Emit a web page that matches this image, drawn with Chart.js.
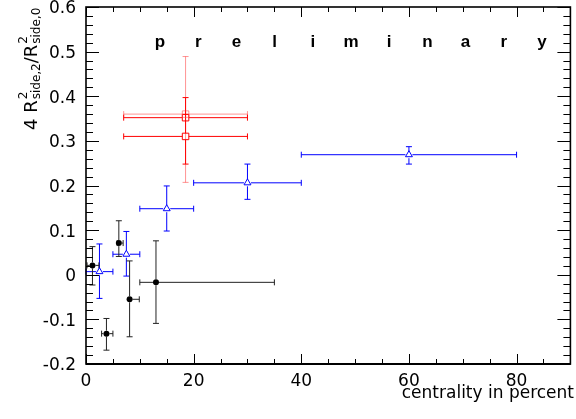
<!DOCTYPE html>
<html><head><meta charset="utf-8">
<script src="https://cdn.jsdelivr.net/npm/chart.js@4.4.0/dist/chart.umd.min.js"></script>
<style>html,body{margin:0;padding:0;background:#fff}</style>
</head><body>
<canvas id="c" width="576" height="419"></canvas>
<script>
// ---- data ----
const xTickValues = [0, 20, 40, 60, 80];
const xTickLabels = ["0", "20", "40", "60", "80"];
const yTickValues = [-0.2, -0.1, 0, 0.1, 0.2, 0.3, 0.4, 0.5, 0.6];
const yTickLabels = ["-0.2", "-0.1", "0", "0.1", "0.2", "0.3", "0.4", "0.5", "0.6"];

// black circles
const blackX   = [1.2, 6.1, 8.1, 13.0, 3.8];
const blackY   = [0.021, 0.071, -0.055, -0.017, -0.132];
const blackXLo = [0.2, 5.8, 8.1, 10.0, 2.9];
const blackXHi = [2.4, 6.9, 9.9, 35.0, 5.0];
const blackYLo = [-0.023, 0.041, -0.139, -0.109, -0.169];
const blackYHi = [0.063, 0.121, 0.031, 0.076, -0.098];

// blue open triangles
const blueX   = [2.5, 7.5, 15, 30, 60];
const blueY   = [0.007, 0.046, 0.148, 0.206, 0.269];
const blueXLo = [0, 5, 10, 20, 40];
const blueXHi = [5, 10, 20, 40, 80];
const blueYLo = [-0.053, -0.003, 0.098, 0.169, 0.248];
const blueYHi = [0.069, 0.097, 0.199, 0.248, 0.287];

// red open squares (dark)
const redX   = [18.5, 18.5];
const redY   = [0.31, 0.352];
const redXLo = [7, 7];
const redXHi = [30, 30];
const redYLo = [0.248, null];
const redYHi = [0.397, null];

// red open square (light)
const redSysX   = [18.5];
const redSysY   = [0.36];
const redSysXLo = [7];
const redSysXHi = [30];
const redSysYLo = [0.207];
const redSysYHi = [0.489];

const xTitle = "centrality in percent";
const watermark = "preliminary";

function pts(X, Y, XL, XH, YL, YH) {
  return X.map((x, i) => ({x: x, y: Y[i], xLo: XL[i], xHi: XH[i], yLo: YL[i], yHi: YH[i]}));
}

const FONT = "'DejaVu Sans', sans-serif";

const errorBars = {
  id: 'errorBars',
  beforeDatasetsDraw(chart) {
    const ctx = chart.ctx, xs = chart.scales.x, ys = chart.scales.y;
    ctx.save();
    ctx.lineWidth = 1;
    chart.data.datasets.forEach((ds, di) => {
      const gap = ds.gap || 0, cap = 3;
      ctx.strokeStyle = ds.errColor;
      ds.data.forEach(p => {
        const px = xs.getPixelForValue(p.x), py = ys.getPixelForValue(p.y);
        ctx.beginPath();
        if (p.xLo != null && p.xLo < p.x) {
          const a = xs.getPixelForValue(p.xLo);
          if (px - gap > a) { ctx.moveTo(a, py); ctx.lineTo(px - gap, py); }
          ctx.moveTo(a, py - cap); ctx.lineTo(a, py + cap);
        }
        if (p.xHi != null && p.xHi > p.x) {
          const b = xs.getPixelForValue(p.xHi);
          if (b > px + gap) { ctx.moveTo(px + gap, py); ctx.lineTo(b, py); }
          ctx.moveTo(b, py - cap); ctx.lineTo(b, py + cap);
        }
        if (p.yHi != null && p.yHi > p.y) {
          const t = ys.getPixelForValue(p.yHi);
          if (py - gap > t) { ctx.moveTo(px, py - gap); ctx.lineTo(px, t); }
          ctx.moveTo(px - cap, t); ctx.lineTo(px + cap, t);
        }
        if (p.yLo != null && p.yLo < p.y) {
          const b = ys.getPixelForValue(p.yLo);
          if (b > py + gap) { ctx.moveTo(px, py + gap); ctx.lineTo(px, b); }
          ctx.moveTo(px - cap, b); ctx.lineTo(px + cap, b);
        }
        ctx.stroke();
      });
    });
    ctx.restore();
  }
};

const frame = {
  id: 'frame',
  afterDraw(chart) {
    const ctx = chart.ctx, a = chart.chartArea, xs = chart.scales.x, ys = chart.scales.y;
    ctx.save();
    ctx.strokeStyle = '#000';
    ctx.lineWidth = 1;
    ctx.beginPath();
    for (let i = 0; i <= 18; i++) {
      const v = i * 5;
      const xx = Math.round(xs.getPixelForValue(v)) + 0.5;
      const len = (v % 20 === 0) ? 10 : 5;
      ctx.moveTo(xx, a.bottom); ctx.lineTo(xx, a.bottom - len);
      ctx.moveTo(xx, a.top); ctx.lineTo(xx, a.top + len);
    }
    for (let i = 0; i <= 40; i++) {
      const v = -0.2 + i * 0.02;
      const yy = Math.round(ys.getPixelForValue(v)) + 0.5;
      const len = (i % 5 === 0) ? 13 : 7;
      ctx.moveTo(a.left, yy); ctx.lineTo(a.left + len, yy);
      ctx.moveTo(a.right, yy); ctx.lineTo(a.right - len, yy);
    }
    ctx.stroke();
    ctx.lineWidth = 1.6;
    ctx.strokeRect(a.left, a.top, a.right - a.left, a.bottom - a.top);
    ctx.lineWidth = 2;
    ctx.beginPath(); ctx.moveTo(a.left, a.bottom); ctx.lineTo(a.right, a.bottom); ctx.stroke();

    // x title
    ctx.fillStyle = '#000';
    ctx.font = "17px " + FONT;
    ctx.textAlign = 'right';
    ctx.textBaseline = 'alphabetic';
    ctx.fillText(xTitle, 574, 398);

    // watermark
    ctx.font = "bold 17px 'Liberation Sans', Arial, sans-serif";
    ctx.textAlign = 'center';
    const chars = watermark.split('');
    chars.forEach((ch, i) => ctx.fillText(ch, 160 + i * 38.2, 47));

    // y title (rotated)
    ctx.translate(37, 130);
    ctx.rotate(-Math.PI / 2);
    ctx.textAlign = 'left';
    let x = 0;
    const main = "18px " + FONT, small = "12px " + FONT;
    function seg(t) { ctx.font = main; ctx.fillText(t, x, 0); x += ctx.measureText(t).width; }
    function supsub(sup, sub) {
      ctx.font = small;
      ctx.fillText(sup, x + 1, -10);
      ctx.fillText(sub, x + 1, 3);
      x += Math.max(ctx.measureText(sup).width, ctx.measureText(sub).width) + 1;
    }
    seg("4 R"); supsub("2", "side,2"); seg("/R"); supsub("2", "side,0");
    ctx.restore();
  }
};

new Chart(document.getElementById('c'), {
  type: 'scatter',
  data: {
    datasets: [
      { data: pts(redSysX, redSysY, redSysXLo, redSysXHi, redSysYLo, redSysYHi),
        pointStyle: 'rect', pointRadius: 4.6, borderWidth: 1,
        borderColor: 'rgba(255,60,60,0.55)', backgroundColor: 'rgba(0,0,0,0)',
        errColor: 'rgba(255,60,60,0.55)', gap: 0 },
      { data: pts(redX, redY, redXLo, redXHi, redYLo, redYHi),
        pointStyle: 'rect', pointRadius: 4.6, borderWidth: 1,
        borderColor: '#ff0000', backgroundColor: 'rgba(0,0,0,0)',
        errColor: '#ff0000', gap: 3.3 },
      { data: pts(blueX, blueY, blueXLo, blueXHi, blueYLo, blueYHi),
        pointStyle: 'triangle', pointRadius: 4, borderWidth: 1,
        borderColor: '#0000ff', backgroundColor: 'rgba(0,0,0,0)',
        errColor: '#0000ff', gap: 3.5 },
      { data: pts(blackX, blackY, blackXLo, blackXHi, blackYLo, blackYHi),
        pointStyle: 'circle', pointRadius: 3, borderWidth: 0,
        borderColor: '#000', backgroundColor: '#000',
        errColor: '#222', gap: 3 }
    ]
  },
  options: {
    responsive: false,
    animation: false,
    devicePixelRatio: 1,
    layout: { padding: { top: 7, right: 2, left: 0, bottom: 0 } },
    plugins: { legend: { display: false }, tooltip: { enabled: false } },
    elements: { point: { hoverRadius: 3 } },
    scales: {
      x: {
        type: 'linear', min: 0, max: 90,
        afterBuildTicks: s => { s.ticks = xTickValues.map(v => ({value: v})); },
        afterFit: s => { s.height = 55; s.paddingLeft = 0; s.paddingRight = 0; },
        grid: { display: false, drawTicks: false },
        border: { display: false },
        ticks: { callback: (v, i) => xTickLabels[i], color: '#000', padding: 7,
                 font: { family: FONT, size: 17 }, maxRotation: 0, autoSkip: false }
      },
      y: {
        type: 'linear', min: -0.2, max: 0.6,
        afterBuildTicks: s => { s.ticks = yTickValues.map(v => ({value: v})); },
        afterFit: s => { s.width = 86; s.paddingTop = 0; s.paddingBottom = 0; },
        grid: { display: false, drawTicks: false },
        border: { display: false },
        ticks: { callback: (v, i) => yTickLabels[i], color: '#000', padding: 10,
                 labelOffset: 2,
                 font: { family: FONT, size: 17 }, autoSkip: false }
      }
    }
  },
  plugins: [errorBars, frame]
});
</script>
</body></html>
